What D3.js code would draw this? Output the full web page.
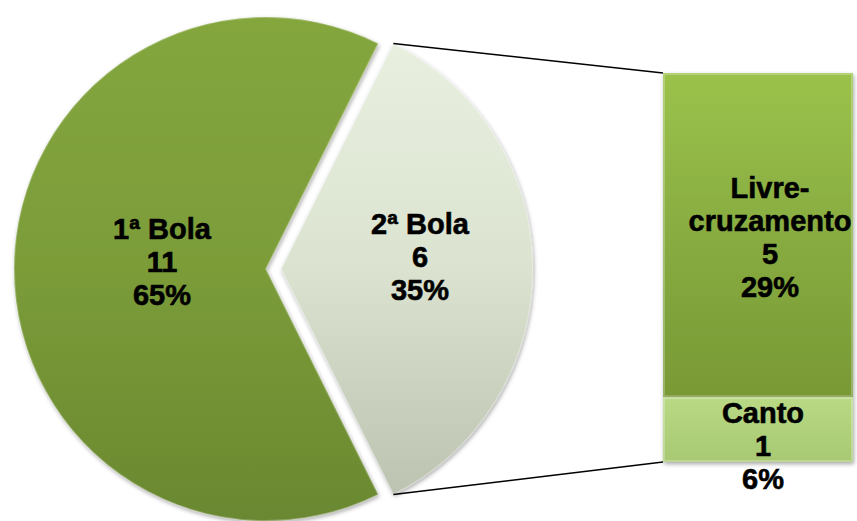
<!DOCTYPE html>
<html>
<head>
<meta charset="utf-8">
<script src="https://cdn.jsdelivr.net/npm/d3@7"></script>
<style>
  html, body { margin: 0; padding: 0; background: #ffffff; }
  svg { display: block; }
  text { font-family: "Liberation Sans", Arial, sans-serif; font-weight: bold; font-size: 29px;
         fill: #000; stroke: #000; stroke-width: 0.6px; }
</style>
</head>
<body>
<svg id="chart" width="857" height="521"></svg>
<script>
// Pie slices
const pieCategories = ["1ª Bola", "2ª Bola"];
const pieValues = [11, 6];
const piePercents = ["65%", "35%"];

// Breakdown of the "2ª Bola" slice shown in the stacked bar
const barCategories = ["Livre-\ncruzamento", "Canto"];
const barValues = [5, 1];
const barPercents = ["29%", "6%"];

const svg = d3.select("#chart");

const defs = svg.append("defs");

function vGrad(id, stops) {
  const g = defs.append("linearGradient").attr("id", id)
    .attr("x1", 0).attr("y1", 0).attr("x2", 0).attr("y2", 1);
  stops.forEach(([o, c]) => g.append("stop").attr("offset", o).attr("stop-color", c));
}
vGrad("gSlice1", [[0, "#84a63e"], [0.5, "#7b9c39"], [1, "#6a8830"]]);
vGrad("gSlice2", [[0, "#e8efdf"], [0.5, "#dbe3d0"], [1, "#bcc3b1"]]);
vGrad("gLivre", [[0, "#9bc24b"], [0.5, "#88ac41"], [1, "#789935"]]);
vGrad("gCanto", [[0, "#b9d985"], [1, "#a8c972"]]);

const shadow = defs.append("filter").attr("id", "shadow")
  .attr("x", "-10%").attr("y", "-10%").attr("width", "120%").attr("height", "120%");
shadow.append("feDropShadow").attr("dx", 1).attr("dy", 2).attr("stdDeviation", 2)
  .attr("flood-color", "#000").attr("flood-opacity", 0.35);

// ---- Pie ----
const cx = 266, cy = 269, radius = 252, explode = 15;
const total = d3.sum(pieValues);
const sliceAngle2 = (pieValues[1] / total) * 2 * Math.PI;
// second slice is centred on the east direction (d3 angle PI/2)
const start = Math.PI / 2 + sliceAngle2 / 2;
const pie = d3.pie().sort(null).startAngle(start).endAngle(start + 2 * Math.PI);
const arcs = pie(pieValues);
const arc = d3.arc().innerRadius(0).outerRadius(radius);
const fills = ["url(#gSlice1)", "url(#gSlice2)"];

function offset(d, dist) {
  const a = (d.startAngle + d.endAngle) / 2;
  return [Math.sin(a) * dist, -Math.cos(a) * dist];
}

const pieG = svg.append("g").attr("transform", `translate(${cx},${cy})`);
arcs.forEach((d, i) => {
  const [ox, oy] = i === 1 ? offset(d, explode) : [0, 0];
  const g = pieG.append("g").attr("transform", `translate(${ox},${oy})`);
  g.append("path").attr("d", arc(d)).attr("fill", fills[i]).attr("filter", "url(#shadow)");
  // soft bevel highlight along the rim
  g.append("path").attr("d", arc(d)).attr("fill", "none")
    .attr("stroke", "#ffffff").attr("stroke-opacity", 0.25).attr("stroke-width", 2);
});

// ---- Connector lines & stacked bar ----
const barX0 = 663, barX1 = 853;
const y = d3.scaleLinear().domain([0, d3.sum(barValues)]).range([462, 73]);

const d2 = arcs[1];
const [ex, ey] = offset(d2, explode);
const topPt = [cx + ex + Math.sin(d2.startAngle) * radius, cy + ey - Math.cos(d2.startAngle) * radius];
const botPt = [cx + ex + Math.sin(d2.endAngle) * radius, cy + ey - Math.cos(d2.endAngle) * radius];

svg.append("line").attr("x1", topPt[0]).attr("y1", topPt[1]).attr("x2", barX0).attr("y2", y(d3.sum(barValues)))
  .attr("stroke", "#000").attr("stroke-width", 1.5);
svg.append("line").attr("x1", botPt[0]).attr("y1", botPt[1]).attr("x2", barX0).attr("y2", y(0))
  .attr("stroke", "#000").attr("stroke-width", 1.5);

// stack from the top: Livre-cruzamento above, Canto below
const segs = [];
let acc = d3.sum(barValues);
barValues.forEach((v, i) => {
  segs.push({ i, top: acc, bottom: acc - v });
  acc -= v;
});
const barFills = ["url(#gLivre)", "url(#gCanto)"];
const barG = svg.append("g");
segs.forEach(s => {
  barG.append("rect")
    .attr("x", barX0).attr("y", y(s.top))
    .attr("width", barX1 - barX0).attr("height", y(s.bottom) - y(s.top))
    .attr("fill", barFills[s.i]).attr("filter", "url(#shadow)");
  // bevel edges
  barG.append("rect")
    .attr("x", barX0 + 1).attr("y", y(s.top) + 1)
    .attr("width", barX1 - barX0 - 2).attr("height", y(s.bottom) - y(s.top) - 2)
    .attr("fill", "none").attr("stroke", "#ffffff").attr("stroke-opacity", 0.25).attr("stroke-width", 2);
});

// ---- Labels ----
const lineH = 33;
function label(x, yMid, lines) {
  const t = svg.append("text").attr("text-anchor", "middle");
  const n = lines.length;
  lines.forEach((ln, k) => {
    t.append("tspan").attr("x", x)
      .attr("y", yMid + (k - (n - 1) / 2) * lineH + 10)
      .text(ln);
  });
}

// pie labels placed along each slice's mid-angle (distance from the slice apex)
const labelDist = [104, 139];
const labelShiftY = [-7, -12];
arcs.forEach((d, i) => {
  const [ox, oy] = i === 1 ? offset(d, explode) : [0, 0];
  const [lx, ly] = offset(d, labelDist[i]);
  label(cx + ox + lx, cy + oy + ly + labelShiftY[i],
    [pieCategories[i], String(pieValues[i]), piePercents[i]]);
});

// bar labels
const barLabelX = [770, 763];
label(barLabelX[0], (y(segs[0].top) + y(segs[0].bottom)) / 2 + 2,
  [...barCategories[0].split("\n"), String(barValues[0]), barPercents[0]]);
label(barLabelX[1], (y(segs[1].top) + y(segs[1].bottom)) / 2 + 16,
  [barCategories[1], String(barValues[1]), barPercents[1]]);
</script>
</body>
</html>
